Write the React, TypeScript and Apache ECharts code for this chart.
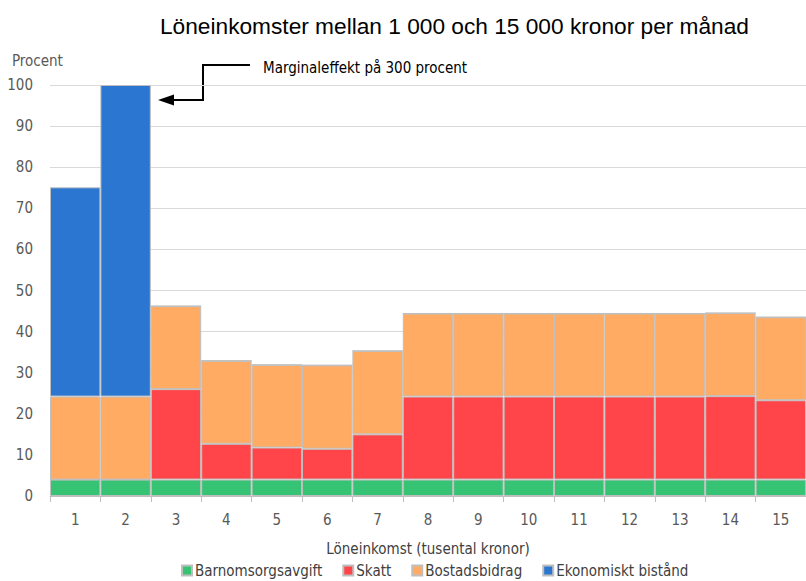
import React, { useEffect, useRef } from "react";
import * as echarts from "echarts";

const categories = ["1", "2", "3", "4", "5", "6", "7", "8", "9", "10", "11", "12", "13", "14", "15"];
const barnomsorgsavgift = [4, 4, 4, 4, 4, 4, 4, 4, 4, 4, 4, 4, 4, 4, 4];
const skatt = [0, 0, 22, 8.7, 7.8, 7.5, 11, 20.2, 20.2, 20.2, 20.2, 20.2, 20.2, 20.3, 19.3];
const bostadsbidrag = [20.2, 20.2, 20.2, 20.2, 20.1, 20.3, 20.3, 20.2, 20.2, 20.2, 20.2, 20.2, 20.2, 20.2, 20.2];
const ekonomisktBistand = [50.9, 75.8, 0, 0, 0, 0, 0, 0, 0, 0, 0, 0, 0, 0, 0];

const FONT = "'DejaVu Sans Condensed', 'Liberation Sans Narrow', sans-serif";

export default function App() {
  const ref = useRef<HTMLDivElement>(null);
  useEffect(() => {
    if (!ref.current) return;
    const chart = echarts.init(ref.current, null, { renderer: "svg" });
    const mk = (name: string, data: number[], color: string) => ({
      name,
      type: "bar",
      stack: "total",
      data,
      barCategoryGap: "0%",
      itemStyle: { color, borderColor: "#bfbfbf", borderWidth: 1 },
    });
    chart.setOption({
      animation: false,
      textStyle: { fontFamily: FONT },
      title: {
        text: "Löneinkomster mellan 1 000 och 15 000 kronor per månad",
        left: 155,
        top: 9,
        textStyle: { fontFamily: "'Liberation Sans', sans-serif", fontWeight: "normal", fontSize: 22.7, color: "#000" },
      },
      grid: { left: 50, right: 0, top: 85, bottom: 85 },
      legend: {
        bottom: 1,
        left: 176,
        itemWidth: 10,
        itemHeight: 10,
        itemGap: 20,
        icon: "rect",
        padding: [2, 5, 2, 5],
        textStyle: { fontFamily: FONT, fontSize: 15, color: "#404040", padding: [0, 0, 0, -2] },
        data: ["Barnomsorgsavgift", "Skatt", "Bostadsbidrag", "Ekonomiskt bistånd"],
      },
      xAxis: {
        type: "category",
        data: categories,
        name: "Löneinkomst (tusental kronor)",
        nameLocation: "middle",
        nameGap: 45,
        nameTextStyle: { fontFamily: FONT, fontSize: 15, color: "#404040" },
        axisLine: { lineStyle: { color: "#bfbfbf" } },
        axisTick: { show: true, length: 6, lineStyle: { color: "#bfbfbf" } },
        axisLabel: { fontFamily: FONT, fontSize: 15, color: "#595959", margin: 16 },
      },
      yAxis: {
        type: "value",
        min: 0,
        max: 100,
        interval: 10,
        axisLine: { show: false },
        axisTick: { show: false },
        splitLine: { lineStyle: { color: "#d9d9d9", width: 1 } },
        axisLabel: { fontFamily: FONT, fontSize: 15, color: "#595959", margin: 17 },
      },
      graphic: [
        {
          type: "text",
          left: 12,
          top: 53,
          style: { text: "Procent", fontFamily: FONT, fontSize: 15, fill: "#595959" },
        },
        {
          type: "polyline",
          shape: { points: [[250, 65], [203, 65], [203, 100], [172, 100]] },
          style: { stroke: "#000", lineWidth: 2, fill: null },
        },
        {
          type: "polygon",
          shape: { points: [[158, 100], [174, 94.5], [174, 105.5]] },
          style: { fill: "#000" },
        },
        {
          type: "text",
          left: 263,
          top: 60,
          style: { text: "Marginaleffekt på 300 procent", fontFamily: FONT, fontSize: 15, fill: "#000" },
        },
      ],
      series: [
        mk("Barnomsorgsavgift", barnomsorgsavgift, "#36c373"),
        mk("Skatt", skatt, "#ff4549"),
        mk("Bostadsbidrag", bostadsbidrag, "#ffab64"),
        mk("Ekonomiskt bistånd", ekonomisktBistand, "#2a76d0"),
      ],
    });
    return () => chart.dispose();
  }, []);
  return <div ref={ref} style={{ position: "absolute", left: 0, top: 0, width: 806, height: 581 }} />;
}
